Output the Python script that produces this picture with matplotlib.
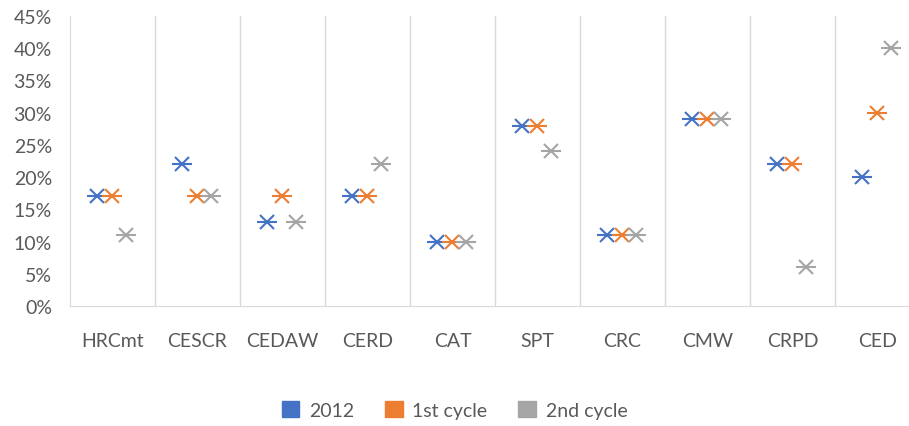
import numpy as np
import matplotlib.pyplot as plt
from matplotlib.patches import Patch

comites = ["HRCmt", "CESCR", "CEDAW", "CERD", "CAT", "SPT", "CRC", "CMW", "CRPD", "CED"]
v2012 = [17, 22, 13, 17, 10, 28, 11, 29, 22, 20]
ciclo1 = [17, 17, 17, 17, 10, 28, 11, 29, 22, 30]
ciclo2 = [11, 17, 13, 22, 10, 24, 11, 29, 6, 40]
series = ["2012", "1st cycle", "2nd cycle"]
colores = ["#4472C4", "#ED7D31", "#A5A5A5"]

plt.rcParams['font.family'] = ['Lato', 'DejaVu Sans']

fig = plt.figure(figsize=(9.09, 4.27), dpi=100)
ax = fig.add_axes([70/909, 120/427, 850/909, 290/427])

x = np.arange(len(comites))
desplaz = [-0.18, -0.01, 0.16]
for vals, col, d in zip([v2012, ciclo1, ciclo2], colores, desplaz):
   y = np.array(vals) / 100
   ax.plot(x + d, y, linestyle='none', marker='x', color=col, markersize=10, markeredgewidth=1.5)
   ax.plot(x + d, y, linestyle='none', marker='_', color=col, markersize=14, markeredgewidth=1.5)

ax.set_xlim(-0.5, len(comites) - 0.5)
ax.set_ylim(0, 0.45)
ax.set_yticks(np.arange(0, 0.46, 0.05))
ax.set_yticklabels([f"{int(round(t*100))}%" for t in np.arange(0, 0.46, 0.05)])
ax.set_xticks(x)
ax.set_xticklabels(comites)
for b in np.arange(0.5, len(comites) - 0.5, 1):
   ax.axvline(b, color='#D9D9D9', linewidth=1, zorder=0)

for s in ['top', 'right']:
   ax.spines[s].set_visible(False)
for s in ['left', 'bottom']:
   ax.spines[s].set_color('#D9D9D9')
ax.tick_params(axis='both', length=0, colors='#595959', labelsize=14)
ax.tick_params(axis='y', pad=13)
ax.tick_params(axis='x', pad=19)

handles = [Patch(facecolor=c, edgecolor=c) for c in colores]
fig.legend(handles, series, loc='center', bbox_to_anchor=(0.5, 16/427), ncol=3, frameon=False,
           fontsize=14, labelcolor='#595959', handlelength=0.9, handleheight=0.9, columnspacing=1.6,
           handletextpad=0.5)

fig.savefig("out.png", dpi=100)
